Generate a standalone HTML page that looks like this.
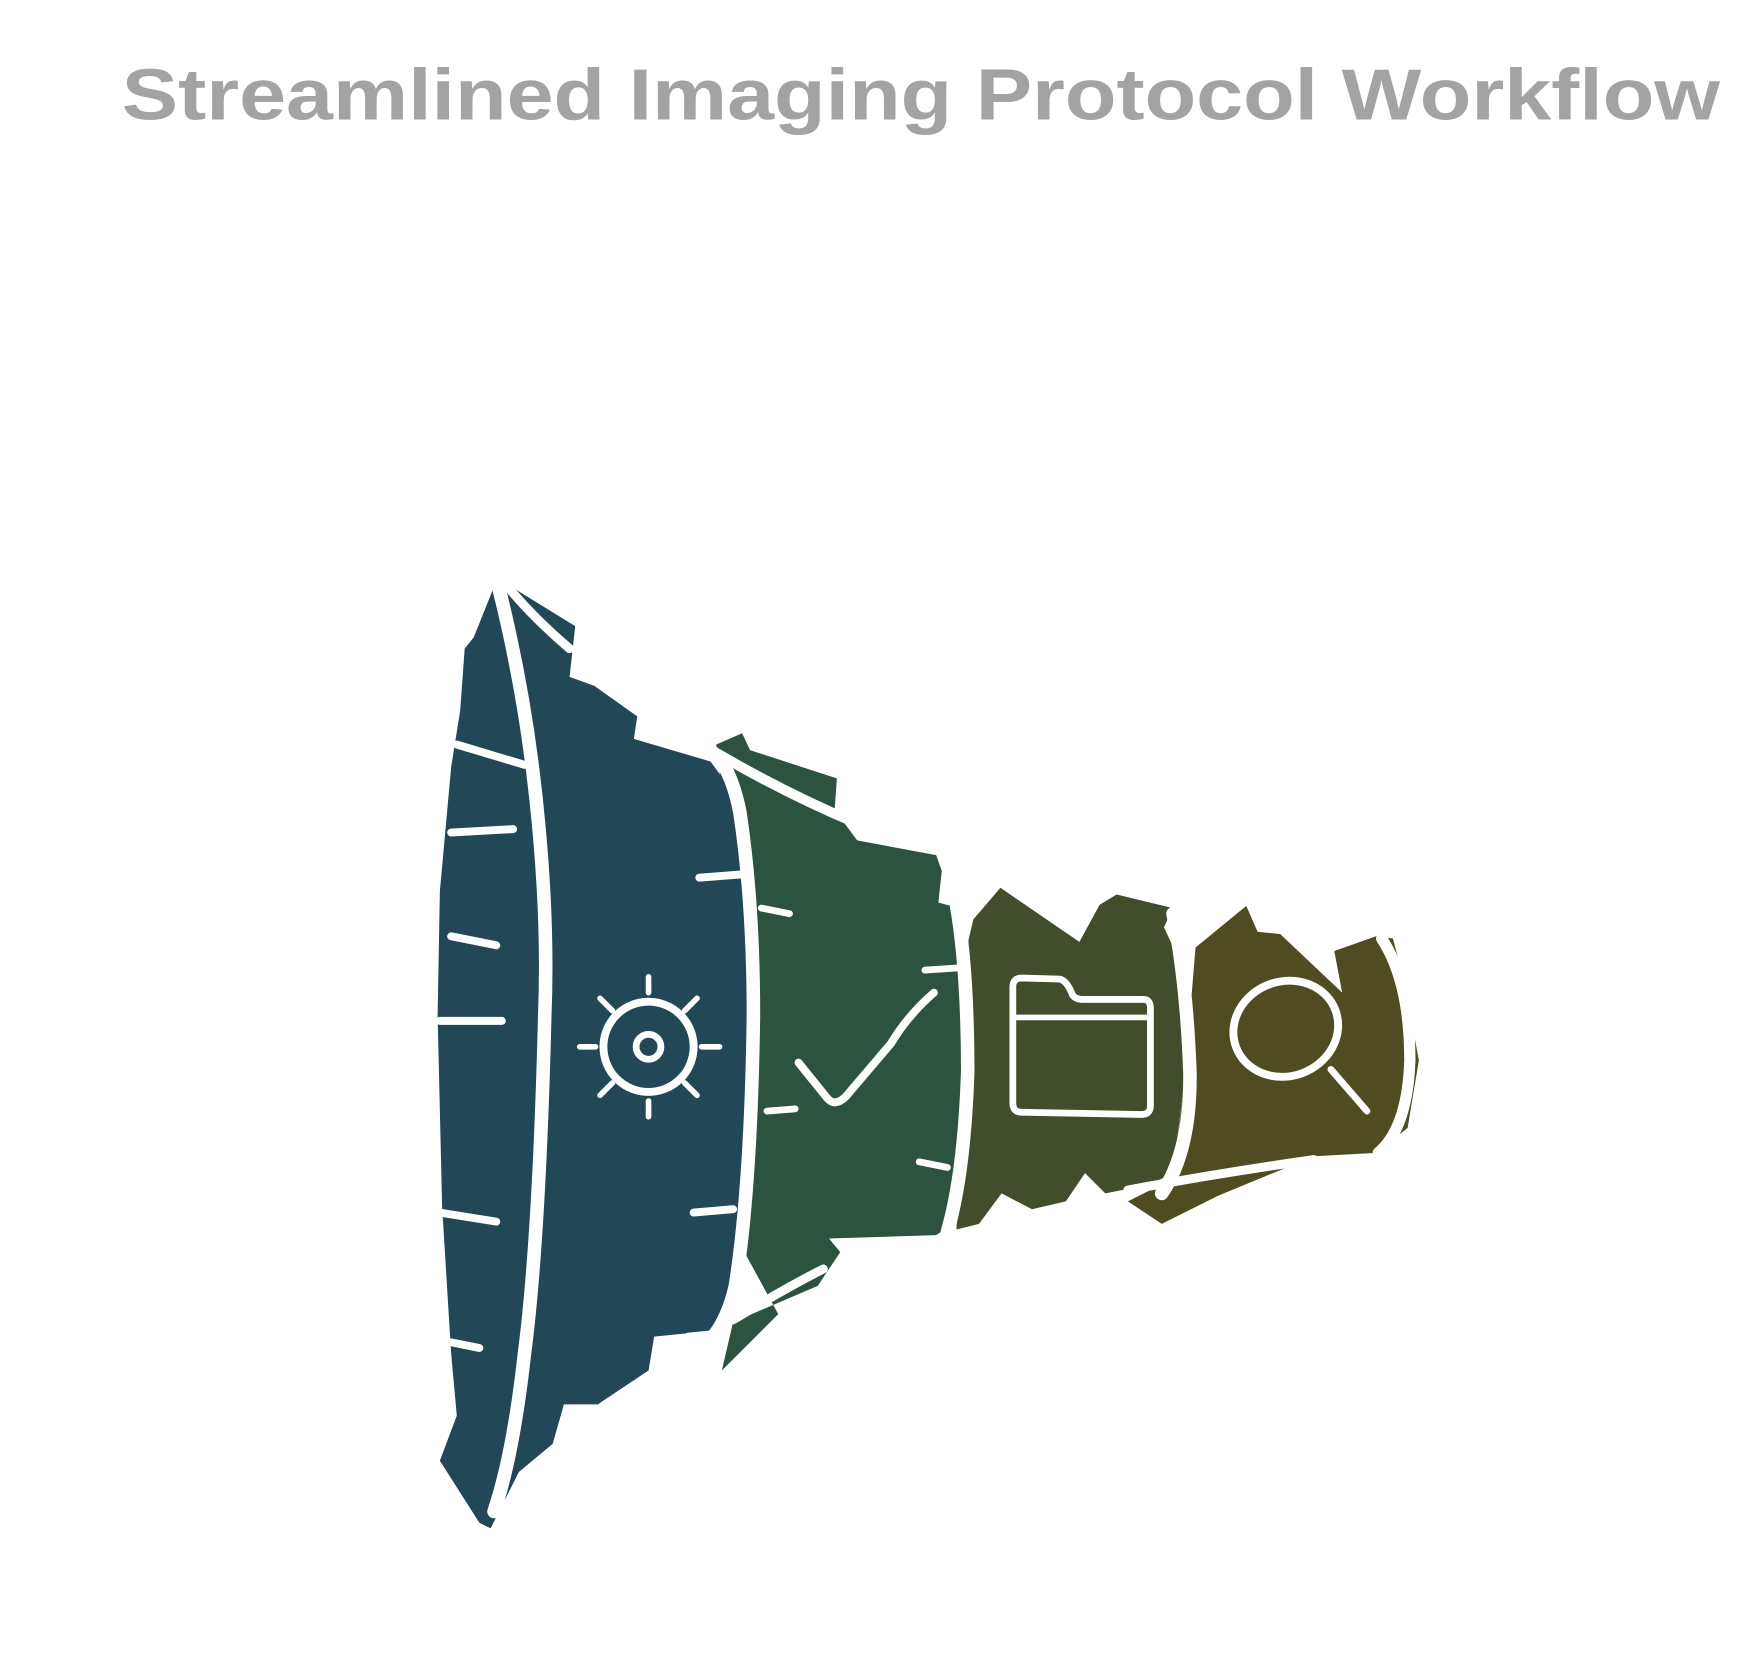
<!DOCTYPE html>
<html><head><meta charset="utf-8"><style>
html,body{margin:0;padding:0;background:#fff;}
svg{display:block;}
</style></head><body>
<svg width="1764" height="1656" viewBox="0 0 1564 1468" xmlns="http://www.w3.org/2000/svg">
<text x="108" y="106" font-family="'Comic Sans MS','Liberation Sans',sans-serif" font-weight="bold" font-size="64" fill="#A3A3A3" textLength="1417" lengthAdjust="spacingAndGlyphs">Streamlined Imaging Protocol Workflow</text>

<!-- brown -->
<path d="M1060,840 L1105,803 L1115,826 L1135,828 L1190,880 L1183,843 L1220,830 L1235,832 L1245,870 L1258,940 L1248,1000 L1220,1022 L1165,1025 L1080,1060 L1030,1085 L1000,1065 L1040,1045 L1050,960 Z" fill="#4F4C22"/>
<!-- olive -->
<path d="M863,815 L887,787 L957,835 L975,802 L990,793 L1040,805 L1032,822 L1045,850 L1050,960 L1040,1040 L1020,1050 L980,1058 L962,1040 L945,1065 L915,1072 L888,1058 L868,1085 L848,1090 L855,960 L850,870 Z" fill="#414D2B"/>
<!-- green -->
<path d="M635,660 L658,650 L665,665 L742,690 L740,718 L760,745 L830,758 L835,772 L832,800 L850,805 L856,860 L852,1000 L845,1085 L830,1095 L735,1098 L745,1110 L725,1140 L650,1172 L640,1215 L690,1165 L660,1110 L662,900 L655,740 L640,700 Z" fill="#2C5340"/>
<!-- blue -->
<path d="M440,515 L445,515 L510,555 L505,600 L527,608 L565,635 L562,655 L630,675 L648,700 L660,780 L665,900 L662,1050 L650,1140 L630,1180 L580,1185 L575,1215 L530,1245 L500,1245 L490,1280 L460,1305 L435,1355 L425,1350 L390,1295 L405,1255 L400,1200 L392,1070 L388,900 L390,790 L400,680 L408,630 L412,575 L420,565 Z" fill="#224858"/>

<g fill="none" stroke="#fff" stroke-linecap="round" stroke-linejoin="round">
<!-- blue inner leaf curve -->
<path d="M442,520 Q462,600 472,680 Q487,800 483,900 Q478,1100 465,1200 Q455,1290 438,1340" stroke-width="12"/>
<path d="M440,520 Q420,560 410,620 Q400,800 395,1000 Q392,1200 405,1260 Q415,1320 432,1348" stroke-width="6" opacity="0"/>
<path d="M446,515 Q470,545 505,575" stroke-width="8"/>
<!-- blue/green divider -->
<path d="M632,667 Q648,680 656,720 Q668,800 668,900 Q666,1050 652,1140 Q645,1170 632,1185" stroke-width="12"/>
<!-- green top boundary -->
<path d="M636,668 Q700,705 760,730 Q800,748 832,752" stroke-width="9"/>
<!-- green/olive divider -->
<path d="M848,802 Q858,860 858,950 Q855,1040 840,1092" stroke-width="12"/>
<!-- olive/brown divider -->
<path d="M1040,810 Q1052,870 1055,950 Q1056,1020 1030,1058" stroke-width="12"/>
<!-- brown right curve -->
<path d="M1225,832 Q1250,870 1250,940 Q1248,1000 1222,1022" stroke-width="10"/>
<!-- bottom edge lines -->
<path d="M1000,1055 Q1080,1040 1165,1028" stroke-width="8"/>
<path d="M650,1170 Q700,1140 730,1125" stroke-width="8"/>
<!-- white spikes on blue left -->
<path d="M405,660 L465,678 M400,738 L455,735 M400,830 L440,838 M390,905 L445,905 M390,1075 L440,1083 M400,1190 L425,1195" stroke-width="7"/>
<path d="M620,778 L660,775 M610,1185 L630,1183 M615,1075 L650,1072" stroke-width="7"/>
<path d="M675,805 L700,810 M680,985 L705,983 M815,1030 L840,1035 M820,860 L850,858" stroke-width="6"/>

<!-- gear -->
<circle cx="575" cy="928" r="40" stroke-width="7"/>
<circle cx="575" cy="928" r="11" stroke-width="6"/>
<path d="M575,866 V880 M575,976 V990 M514,928 H528 M622,928 H638 M532,885 L543,896 M618,885 L607,896 M532,971 L543,960 M618,971 L607,960" stroke-width="5"/>
<!-- check -->
<path d="M708,942 L733,973 Q740,982 750,972 L790,925 Q805,900 828,880" stroke-width="7"/>
<!-- folder -->
<path d="M898,875 Q898,867 906,867 L940,868 Q946,870 950,880 Q952,886 960,886 L1014,886 Q1020,886 1020,894 L1020,980 Q1020,988 1012,988 L906,986 Q898,986 898,978 Z" stroke-width="6"/>
<path d="M900,902 L1020,902" stroke-width="5"/>
<!-- magnifier -->
<ellipse cx="1140" cy="912" rx="47" ry="42" stroke-width="7" transform="rotate(-20 1140 912)"/>
<path d="M1180,948 L1212,985" stroke-width="6"/>
</g>
</svg>
</body></html>
